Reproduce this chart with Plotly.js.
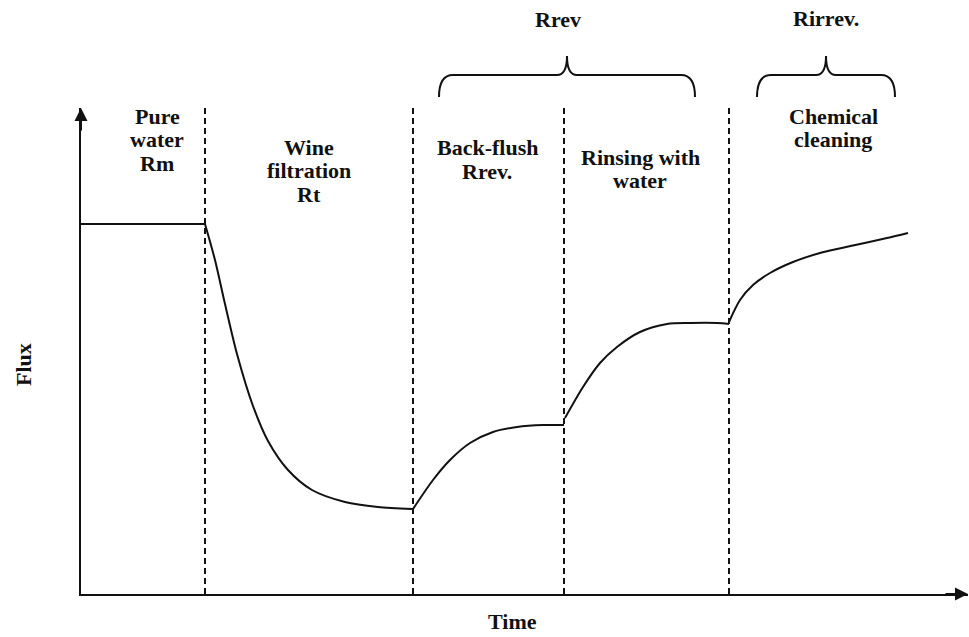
<!DOCTYPE html>
<html>
<head>
<meta charset="utf-8">
<script src="https://cdn.plot.ly/plotly-3.0.1.min.js"></script>
<style>html,body{margin:0;padding:0;background:#fff;}#chart{width:969px;height:637px;}</style>
</head>
<body>
<div id="chart"></div>
<script>
// ---- Data (arbitrary schematic units) ----
const pureT  = [0, 124];
const pureF  = [370, 370];
const wineT  = [124, 134, 144, 156, 172, 187, 207, 231, 264, 297, 331];
const wineF  = [370, 334, 290, 240, 188, 153, 124, 104, 92, 87, 85];
const backT  = [332, 352, 369, 389, 412, 436, 462, 483];
const backF  = [85, 114, 134, 151, 162, 167, 169, 169];
const rinseT = [484, 502, 519, 536, 559, 586, 609, 636, 648];
const rinseF = [176, 207, 231, 247, 262, 270, 271, 271, 270];
const chemT  = [648, 659, 672, 689, 712, 739, 772, 806, 827];
const chemF  = [272, 294, 309, 321, 332, 341, 348.5, 356, 361];
const boundaries = [124, 332, 483, 648];
const phaseLabels = [
  {lines: ["Pure", "water", "Rm"], t: 76},
  {lines: ["Wine", "filtration", "Rt"], t: 228},
  {lines: ["Back-flush", "Rrev."], t: 406},
  {lines: ["Rinsing with", "water"], t: 559},
  {lines: ["Chemical", "cleaning"], t: 752}
];
const braces = [
  {label: "Rrev", from: 358, to: 614, tip: 486, labelT: 477},
  {label: "Rirrev.", from: 676, to: 814, tip: 745, labelT: 745}
];
const xTitle = "Time";
const yTitle = "Flux";

// ---- Layout helpers ----
const W = 969, H = 637;
const M = {l: 81, r: 1, t: 108, b: 43};
const plotH = H - M.t - M.b;
const py = p => (H - M.b - p) / plotH;          // pixel row -> paper y
const font = {family: "Times New Roman", size: 22, color: "#111", weight: "bold"};

const lineStyle = {color: "#111", width: 2, shape: "spline", smoothing: 0.8};
const segs = [[pureT, pureF], [wineT, wineF], [backT, backF], [rinseT, rinseF], [chemT, chemF]];
const traces = segs.map(s => ({
  x: s[0], y: s[1], type: "scatter", mode: "lines", line: lineStyle, hoverinfo: "skip"
}));

const shapes = boundaries.map(b => ({
  type: "line", xref: "x", yref: "paper", x0: b, x1: b, y0: 0, y1: 1,
  line: {color: "#111", width: 2, dash: "6px,4px"}
}));

const yb = py(97), ym = py(75), yt = py(56);
braces.forEach(br => {
  const we = 14, wc = 10;
  const p = `M ${br.from},${yb} Q ${br.from},${ym} ${br.from + we},${ym} ` +
            `L ${br.tip - wc},${ym} Q ${br.tip},${ym} ${br.tip},${yt} ` +
            `Q ${br.tip},${ym} ${br.tip + wc},${ym} L ${br.to - we},${ym} ` +
            `Q ${br.to},${ym} ${br.to},${yb}`;
  shapes.push({type: "path", xref: "x", yref: "paper", path: p, line: {color: "#111", width: 2}});
});

const annotations = [];
const firstLineRow = [116, 147, 148, 157, 116];
const lineGap = 23.5;
phaseLabels.forEach((lab, i) => {
  lab.lines.forEach((txt, j) => {
    annotations.push({
      xref: "x", yref: "paper", x: lab.t, y: py(firstLineRow[i] + j * lineGap),
      text: txt, showarrow: false, xanchor: "center", yanchor: "middle", font: font
    });
  });
});
const braceLabelRow = [20, 18];
braces.forEach((br, i) => {
  annotations.push({
    xref: "x", yref: "paper", x: br.labelT, y: py(braceLabelRow[i]),
    text: br.label, showarrow: false, xanchor: "center", yanchor: "middle", font: font
  });
});
annotations.push({xref: "x", yref: "paper", x: 431, y: py(621), text: xTitle,
  showarrow: false, xanchor: "center", yanchor: "middle", font: font});
annotations.push({xref: "paper", yref: "paper", x: (23 - M.l) / (W - M.l - M.r), y: py(365), text: yTitle,
  textangle: -90, showarrow: false, xanchor: "center", yanchor: "middle", font: font});

// axis arrowheads
annotations.push({xref: "x", yref: "y", x: 887, y: 0, ax: -24, ay: 0, text: "", showarrow: true,
  arrowhead: 2, arrowsize: 1.3, arrowwidth: 2, arrowcolor: "#111", standoff: 0});
annotations.push({xref: "x", yref: "y", x: 0, y: 486, ax: 0, ay: 24, text: "", showarrow: true,
  arrowhead: 2, arrowsize: 1.3, arrowwidth: 2, arrowcolor: "#111", standoff: 0});

const axisBase = {showticklabels: false, ticks: "", showgrid: false, zeroline: false,
  showline: true, linecolor: "#111", linewidth: 2, fixedrange: true};

const layout = {
  width: W, height: H, margin: M, showlegend: false,
  paper_bgcolor: "#fff", plot_bgcolor: "#fff",
  xaxis: Object.assign({range: [0, 887]}, axisBase),
  yaxis: Object.assign({range: [0, 486]}, axisBase),
  shapes: shapes, annotations: annotations
};

Plotly.newPlot("chart", traces, layout, {staticPlot: true, displayModeBar: false});
</script>
</body>
</html>
